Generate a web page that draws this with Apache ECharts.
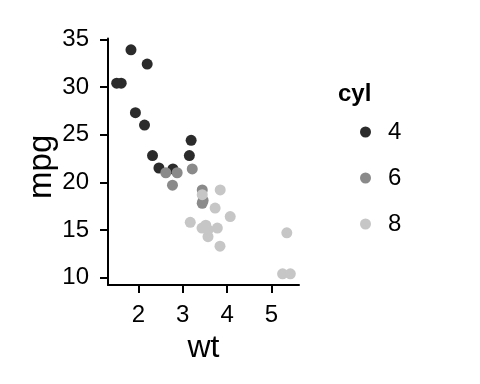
<!DOCTYPE html>
<html><head><meta charset="utf-8">
<script src="https://cdn.jsdelivr.net/npm/echarts@6/dist/echarts.min.js"></script>
<style>html,body{margin:0;padding:0;background:#fff}#c{width:480px;height:384px}</style>
</head><body><div id="c"></div>
<script>
// mtcars: weight (1000 lbs), miles per gallon, cylinders
const wt  = [2.620,2.875,2.320,3.215,3.440,3.460,3.570,3.190,3.150,3.440,3.440,4.070,3.730,3.780,5.250,5.424,5.345,2.200,1.615,1.835,2.465,3.520,3.435,3.840,3.845,1.935,2.140,1.513,3.170,2.770,3.570,2.780];
const mpg = [21.0,21.0,22.8,21.4,18.7,18.1,14.3,24.4,22.8,19.2,17.8,16.4,17.3,15.2,10.4,10.4,14.7,32.4,30.4,33.9,21.5,15.5,15.2,13.3,19.2,27.3,26.0,30.4,15.8,19.7,15.0,21.4];
const cyl = [6,6,4,6,8,6,8,4,4,6,6,8,8,8,8,8,8,4,4,4,4,8,8,8,8,4,4,4,8,6,8,4];
const cylLevels = ['4','6','8'];
const cylColors = ['#2b2b2b','#8a8a8a','#c6c6c6'];
const xTicks = [2,3,4,5];
const yTicks = [10,15,20,25,30,35];

const font = 'Liberation Sans, Arial, sans-serif';
const series = cylLevels.map((lv, i) => ({
  name: lv,
  type: 'scatter',
  symbolSize: 11,
  itemStyle: {color: cylColors[i], opacity: 1},
  data: wt.map((w, k) => [w, mpg[k], cyl[k]]).filter(d => String(d[2]) === lv).map(d => [d[0], d[1]])
}));

const chart = echarts.init(document.getElementById('c'), null, {renderer: 'canvas'});
chart.setOption({
  animation: false,
  backgroundColor: '#fff',
  title: {text: 'cyl', left: 333, top: 77, textStyle: {fontFamily: font, fontSize: 24, fontWeight: 'bold', color: '#000'}},
  legend: {
    orient: 'vertical', left: 355, top: 115,
    icon: 'circle', itemWidth: 11, itemHeight: 11, itemGap: 22,
    data: cylLevels,
    textStyle: {fontFamily: font, fontSize: 24, color: '#000', lineHeight: 24, padding: [0,0,0,12]}
  },
  grid: {left: 108, right: 181, top: 38.6, bottom: 99},
  xAxis: {
    type: 'value', min: 1.3175, max: 5.6195,
    name: 'wt', nameLocation: 'middle', nameGap: 47,
    nameTextStyle: {fontFamily: font, fontSize: 32, color: '#000'},
    splitLine: {show: false},
    axisLine: {show: true, onZero: false, lineStyle: {color: '#000', width: 2}},
    axisTick: {show: true, length: 8, lineStyle: {color: '#000', width: 2}, customValues: xTicks},
    axisLabel: {fontFamily: font, fontSize: 24, color: '#000', margin: 18, customValues: xTicks}
  },
  yAxis: {
    type: 'value', min: 9.225, max: 35.075,
    name: 'mpg', nameLocation: 'middle', nameGap: 48, nameRotate: 90,
    nameTextStyle: {fontFamily: font, fontSize: 33, color: '#000', padding: [0, 10, 0, 0]},
    splitLine: {show: false},
    axisLine: {show: true, onZero: false, lineStyle: {color: '#000', width: 2}},
    axisTick: {show: true, length: 8, lineStyle: {color: '#000', width: 2}, customValues: yTicks},
    axisLabel: {fontFamily: font, fontSize: 24, color: '#000', margin: 19, customValues: yTicks}
  },
  series: series
});
</script></body></html>
